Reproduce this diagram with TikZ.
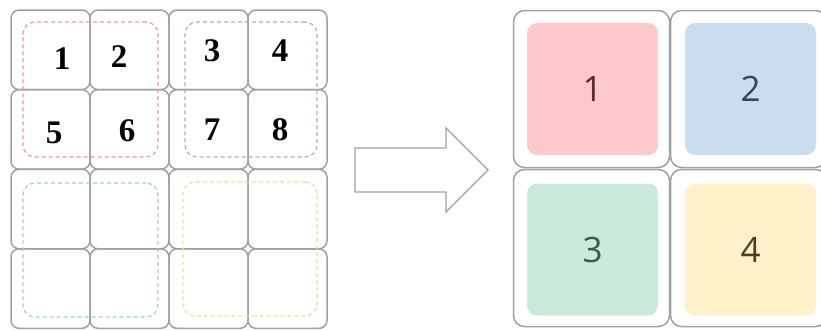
\documentclass[tikz,border=0pt]{standalone}
\usepackage{fontspec}
\setmainfont{Liberation Serif}
\newfontfamily\sansf{Open Sans}
\definecolor{cellgray}{HTML}{A0A0A0}
\definecolor{dred}{HTML}{EC98A2}
\definecolor{dblue}{HTML}{98B2D6}
\definecolor{dgreen}{HTML}{A0D4BA}
\definecolor{dyellow}{HTML}{F2DCA0}
\definecolor{fred}{HTML}{FFC9CC}
\definecolor{fblue}{HTML}{CADDEE}
\definecolor{fgreen}{HTML}{CAEBDB}
\definecolor{fyellow}{HTML}{FFF1CA}
\definecolor{tred}{HTML}{5A2A2E}
\definecolor{tblue}{HTML}{3A4656}
\definecolor{tgreen}{HTML}{3A5A48}
\definecolor{tyellow}{HTML}{4A4020}
\begin{document}
\begin{tikzpicture}[x=1pt,y=-1pt,
  smallcell/.style={draw=cellgray,line width=1.5pt,rounded corners=8pt,
    minimum width=79pt,minimum height=79.5pt,inner sep=0pt,outer sep=0pt},
  bigcell/.style={draw=cellgray,line width=1.5pt,rounded corners=11pt,
    minimum width=156pt,minimum height=157pt,inner sep=0pt,outer sep=0pt},
  group/.style={draw=#1,dashed,dash pattern=on 4pt off 3pt,line width=1.2pt,
    rounded corners=12pt,inner sep=0pt},
  tile/.style={fill=#1,draw=none,rounded corners=10pt,
    minimum width=131pt,minimum height=132pt,inner sep=0pt},
  bnum/.style={font=\fontsize{33}{33}\selectfont\bfseries,inner sep=0pt},
  snum/.style={font=\sansf\fontsize{35}{35}\selectfont,inner sep=0pt}]
\useasboundingbox (0,0) rectangle (821,330);
% left grid
\foreach \i in {0,1,2,3}{
  \foreach \j in {0,1,2,3}{
    \node[smallcell] (c\i\j) at ({11+79*\i+39.5},{10+79.6*\j+39.8}) {};
  }}
% dashed groups
\node[group=dred,minimum width=135pt,minimum height=135pt] (gred) at (90.5,89.5) {};
\node[group=dblue,minimum width=132pt,minimum height=135pt] (gblue) at (251,89.5) {};
\node[group=dgreen,minimum width=135pt,minimum height=134pt] (ggreen) at (90.5,250) {};
\node[group=dyellow,minimum width=134pt,minimum height=134pt] (gyellow) at (250,249) {};
% numbers
\node[bnum] (n1) at (62,59) {1};
\node[bnum] (n2) at (119,57) {2};
\node[bnum] (n3) at (212,51) {3};
\node[bnum] (n4) at (280,51) {4};
\node[bnum] (n5) at (54,133) {5};
\node[bnum] (n6) at (127,131) {6};
\node[bnum] (n7) at (212,130) {7};
\node[bnum] (n8) at (280,130) {8};
% arrow
\draw[cellgray,line width=1.3pt,line join=miter]
  (355,148) -- (446,148) -- (446,128) -- (488,170) -- (446,212)
  -- (446,192) -- (355,192) -- cycle;
% right grid
\node[bigcell] (r1) at (591.5,89) {};
\node[bigcell] (r2) at (748.5,89) {};
\node[bigcell] (r3) at (591.5,248) {};
\node[bigcell] (r4) at (748.5,248) {};
\node[tile=fred] (t1) at (592.5,89) {};
\node[tile=fblue] (t2) at (750.5,89) {};
\node[tile=fgreen] (t3) at (592.5,249.5) {};
\node[tile=fyellow] (t4) at (750.5,249.5) {};
\node[snum,text=tred] (m1) at (t1) {1};
\node[snum,text=tblue] (m2) at (t2) {2};
\node[snum,text=tgreen] (m3) at (t3) {3};
\node[snum,text=tyellow] (m4) at (t4) {4};
\end{tikzpicture}
\end{document}
